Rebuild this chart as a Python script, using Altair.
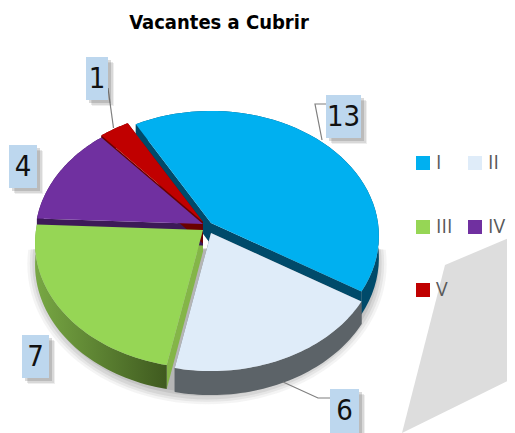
import math
import altair as alt
import pandas as pd

# ---------- data ----------
categories = ["I", "II", "III", "IV", "V"]
values = [13, 6, 7, 4, 1]
top_colors = ["#00B0F0", "#DFECF9", "#96D655", "#7030A0", "#C00000"]
wall_colors = ["#004A6A", "#5C6368", "#84B548", "#3D1A58", "#6A0000"]
rim_colors = ["#004A6A", "#5C6368", "#5F8A36", "#3D1A58", "#6A0000"]
apex_x = [211, 211, 203, 203, 203]
apex_y = [223, 233, 230, 224, 222]

# legend layout (reference pixels)
legend_x = [423, 475, 423, 475, 423]
legend_y = [163, 163, 227, 227, 290]

# label boxes: text, left, right, top, bottom (reference pixels)
box_text = ["13", "6", "7", "4", "1"]
box_x0 = [326, 330, 22, 9, 86]
box_x1 = [361, 359, 49, 37, 108]
box_y0 = [95, 389, 335, 145, 57]
box_y1 = [138, 433, 378, 188, 100]

# leader lines
leader_id = [0, 0, 0, 1, 1, 1, 2, 2]
leader_x = [322, 315, 326, 283, 318, 330, 113.5, 108]
leader_y = [140, 104, 104, 382, 398, 398, 128, 88]

backdrop_x = [445, 530, 530, 402]
backdrop_y = [265, 229, 370, 433]

title_text = "Vacantes a Cubrir"
COND = "'DejaVu Sans Condensed', 'Liberation Sans', sans-serif"

# ---------- geometry ----------
OFF = 8
START = -29.4
RX, RY, K, DEPTH = 167.0, 123.7, 0.104, 21.5


def px(x):
    return x - OFF


def py(y):
    return y - OFF


def rim(i, a0, a1, n=48, drop=False):
    pts = []
    for j in range(n + 1):
        t = math.radians(a0 + (a1 - a0) * j / n)
        u, v = math.sin(t), -math.cos(t)
        w = 1 - K * v
        x = apex_x[i] + RX * u / w
        y = apex_y[i] + RY * v / w + (DEPTH / w if drop else 0)
        pts.append([x, y])
    return pts


def feature(pts, **props):
    ring = [[px(a), py(b)] for a, b in pts]
    ring.append(ring[0])
    return {"type": "Feature", "properties": props,
            "geometry": {"type": "Polygon", "coordinates": [ring]}}


total = sum(values)
angles = [START]
for val in values:
    angles.append(angles[-1] + 360.0 * val / total)

tops, walls, rims = [], [], []
for i, c in enumerate(categories):
    a0, a1 = angles[i], angles[i + 1]
    apex = [apex_x[i], apex_y[i]]
    apex_d = [apex_x[i], apex_y[i] + DEPTH]
    tops.append(feature([apex] + rim(i, a0, a1), cat=c))
    s, e = rim(i, a0, a1, 1), rim(i, a0, a1, 1, True)
    walls.append(feature([apex, s[0], e[0], apex_d], fill=wall_colors[i]))
    walls.append(feature([apex, s[1], e[1], apex_d], fill=wall_colors[i]))
    rims.append((i, feature(rim(i, a0, a1) + rim(i, a0, a1, drop=True)[::-1], fill=rim_colors[i])))

PROJ = dict(type="identity", scale=1, translate=[0, 0])


def shapes(feats):
    return alt.Chart(alt.Data(values=feats))


# soft drop shadow under the front half of the pie
shadow_layers = []
for gx, gy, op in [(1.07, 1.10, 0.08), (1.055, 1.085, 0.10), (1.04, 1.07, 0.13),
                   (1.025, 1.05, 0.16), (1.01, 1.03, 0.18)]:
    pts = []
    for j in range(61):
        t = math.radians(90 + 3 * j)
        u, v = math.sin(t), -math.cos(t)
        w = 1 - K * v
        pts.append([207 + gx * RX * u / w, 226 + gy * (RY * v / w + DEPTH / w)])
    shadow_layers.append(
        shapes([feature(pts)]).mark_geoshape(fill="#6f6f6f", strokeWidth=0, opacity=op)
        .project(**PROJ)
    )

backdrop = shapes([feature([[a, b] for a, b in zip(backdrop_x, backdrop_y)])]).mark_geoshape(
    fill="#DDDDDD", strokeWidth=0).project(**PROJ)

wall_layer = shapes(walls + [f for i, f in rims if i != 2]).mark_geoshape(strokeWidth=0).encode(
    fill=alt.Fill("properties.fill:N", scale=None)).project(**PROJ)

green_rim = shapes([rims[2][1]]).mark_geoshape(
    strokeWidth=0,
    fill=alt.Gradient(gradient="linear", x1=0, y1=0, x2=1, y2=0,
                      stops=[alt.GradientStop(offset=0, color="#78A844"),
                             alt.GradientStop(offset=1, color="#3F5A1F")])
).project(**PROJ)

color_scale = alt.Scale(domain=categories, range=top_colors)

top_layer = shapes(tops).mark_geoshape(strokeWidth=0).encode(
    color=alt.Color("properties.cat:N", scale=color_scale, legend=None)
).project(**PROJ)

legend_df = pd.DataFrame({
    "cat": categories,
    "x": [px(v) for v in legend_x], "y": [py(v) for v in legend_y],
    "tx": [px(v + 13) for v in legend_x],
})
legend_marks = alt.Chart(legend_df).mark_square(size=196, opacity=1).encode(
    x=alt.X("x:Q", scale=None, axis=None), y=alt.Y("y:Q", scale=None, axis=None),
    color=alt.Color("cat:N", scale=color_scale, legend=None))
legend_text = alt.Chart(legend_df).mark_text(
    font="Open Sans", fontSize=19.5, color="#595959", align="left", baseline="middle"
).encode(x=alt.X("tx:Q", scale=None, axis=None), y=alt.Y("y:Q", scale=None, axis=None), text="cat:N")

boxes = pd.DataFrame({
    "t": box_text,
    "x0": [px(v) for v in box_x0], "x1": [px(v) for v in box_x1],
    "y0": [py(v) for v in box_y0], "y1": [py(v) for v in box_y1],
})
boxes["cx"] = (boxes.x0 + boxes.x1) / 2
boxes["cy"] = (boxes.y0 + boxes.y1) / 2


def rect_layer(df, dx, dy, color, op):
    d = df.copy()
    for col, off in [("x0", dx), ("x1", dx), ("y0", dy), ("y1", dy)]:
        d[col] = d[col] + off
    return alt.Chart(d).mark_rect(color=color, opacity=op).encode(
        x=alt.X("x0:Q", scale=None, axis=None), x2="x1:Q",
        y=alt.Y("y0:Q", scale=None, axis=None), y2="y1:Q")


box_shadows = [rect_layer(boxes, d, d, "#555555", o) for d, o in [(6, 0.10), (5, 0.14), (3, 0.22)]]
box_rects = rect_layer(boxes, 0, 0, "#BDD7EE", 1)

box_text_layer = alt.Chart(boxes).mark_text(
    font=COND, fontSize=29, color="#111111", baseline="middle", align="center"
).encode(x=alt.X("cx:Q", scale=None, axis=None), y=alt.Y("cy:Q", scale=None, axis=None), text="t:N")

leaders = alt.Chart(pd.DataFrame({
    "id": leader_id, "x": [px(v) for v in leader_x], "y": [py(v) for v in leader_y],
    "o": list(range(len(leader_x)))
})).mark_line(color="#7F7F7F", strokeWidth=1.2).encode(
    x=alt.X("x:Q", scale=None, axis=None), y=alt.Y("y:Q", scale=None, axis=None),
    detail="id:N", order="o:Q")

title = alt.Chart(pd.DataFrame({"t": [title_text], "x": [px(219)], "y": [py(23)]})).mark_text(
    font=COND, fontWeight="bold", fontSize=20, color="#000000",
    align="center", baseline="middle"
).encode(x=alt.X("x:Q", scale=None, axis=None), y=alt.Y("y:Q", scale=None, axis=None), text="t:N")

chart = alt.layer(
    backdrop, *shadow_layers, wall_layer, green_rim, top_layer, leaders,
    *box_shadows, box_rects, box_text_layer, legend_marks, legend_text, title
).properties(width=499, height=425, padding=0, autosize="none",
             background="white").configure_view(stroke=None)

chart.save("out.html", embed_options={"renderer": "svg", "actions": False})
